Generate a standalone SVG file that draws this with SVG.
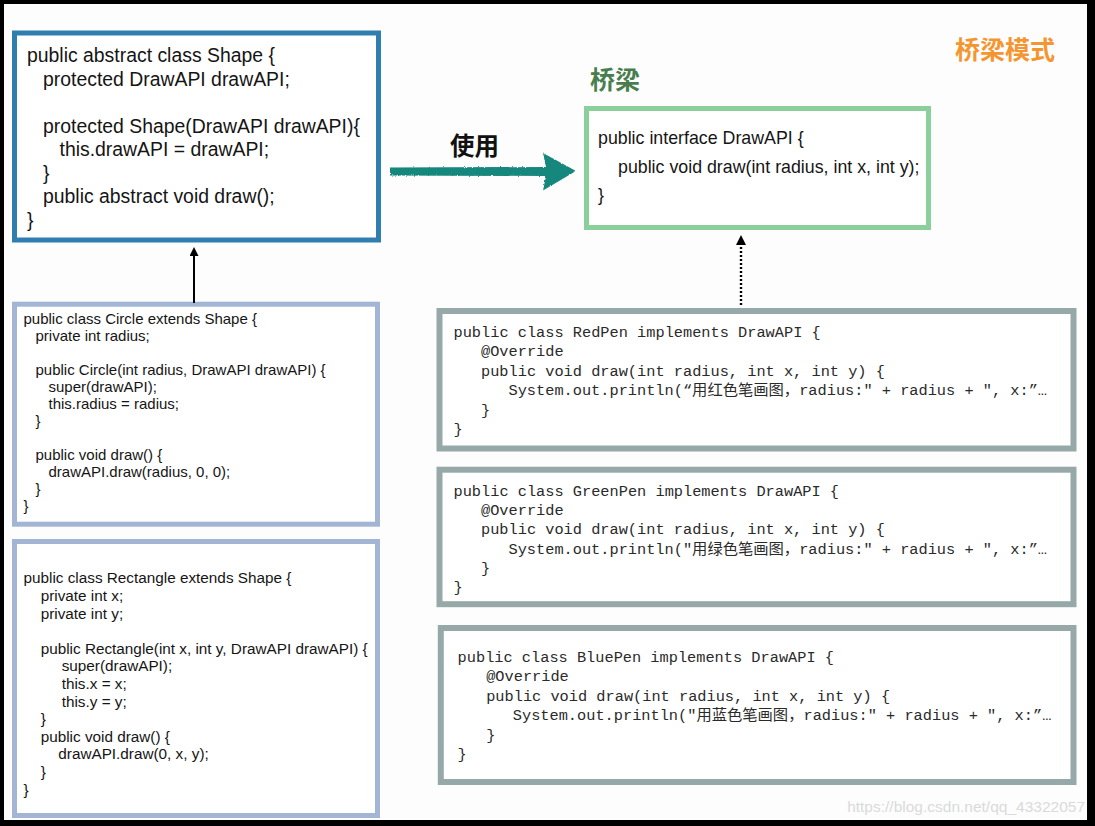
<svg xmlns="http://www.w3.org/2000/svg" width="1095" height="826" viewBox="0 0 1095 826">
<style>
  .sans { font-family: "Liberation Sans", Arial, "Noto Sans CJK SC", sans-serif; fill: #151515; }
  .mono { font-family: "Liberation Mono", "Noto Sans CJK SC", monospace; fill: #2a2a2a; font-size: 15.3px; }
  .cjk { font-family: "Noto Sans CJK SC", sans-serif; font-weight: bold; }
  .shape { font-size: 19.4px; }
  .iface { font-size: 17.8px; }
  .small { font-size: 15px; }
  .small2 { font-size: 15.3px; }
  .box { fill: #ffffff; stroke-width: 5; }
  .pen { fill: #ffffff; stroke: #97a8a8; stroke-width: 6; }
</style>
<defs>
  <marker id="tri" viewBox="0 0 10 10" refX="0" refY="5" markerUnits="userSpaceOnUse" markerWidth="10" markerHeight="9" orient="auto">
    <path d="M0,0 L10,5 L0,10 Z" fill="#000"/>
  </marker>
  <marker id="tri2" viewBox="0 0 10 10" refX="0" refY="5" markerUnits="userSpaceOnUse" markerWidth="10" markerHeight="10" orient="auto">
    <path d="M0,0 L10,5 L0,10 Z" fill="#000"/>
  </marker>
  <filter id="rough" x="-5%" y="-30%" width="110%" height="160%">
    <feTurbulence type="fractalNoise" baseFrequency="0.9" numOctaves="2" seed="3" result="n"/>
    <feDisplacementMap in="SourceGraphic" in2="n" scale="2.5" xChannelSelector="R" yChannelSelector="G"/>
  </filter>
</defs>

<!-- frame -->
<rect x="0" y="0" width="1095" height="826" fill="#000"/>
<rect x="4" y="4" width="1083" height="816" fill="#fdfdfd"/>

<!-- labels -->
<text class="cjk" x="955" y="59" font-size="25" fill="#f5952f">桥梁模式</text>
<text class="cjk" x="590" y="89" font-size="25" fill="#4a7d4e">桥梁</text>
<text class="cjk" x="450" y="155" font-size="24.5" fill="#111">使用</text>

<!-- Shape -->
<g id="shape">
  <rect class="box" x="14.5" y="33" width="364" height="207" stroke="#2f7eaf"/>
  <text class="sans shape" x="27" y="62.3">public abstract class Shape {</text>
  <text class="sans shape" x="43" y="85.8">protected DrawAPI drawAPI;</text>
  <text class="sans shape" x="43" y="132.8">protected Shape(DrawAPI drawAPI){</text>
  <text class="sans shape" x="59.5" y="156.3">this.drawAPI = drawAPI;</text>
  <text class="sans shape" x="43" y="179.8">}</text>
  <text class="sans shape" x="43" y="203.3">public abstract void draw();</text>
  <text class="sans shape" x="27" y="226.8">}</text>
</g>

<!-- DrawAPI -->
<g id="drawapi">
  <rect class="box" x="586.5" y="108.5" width="342" height="119" stroke="#8bcf9c"/>
  <text class="sans iface" x="598" y="144.3">public interface DrawAPI {</text>
  <text class="sans iface" x="618" y="172.5">public void draw(int radius, int x, int y);</text>
  <text class="sans iface" x="598" y="200.7">}</text>
</g>

<!-- Circle -->
<g id="circle">
  <rect class="box" x="14.5" y="304.2" width="363" height="220" stroke="#a2b5d4"/>
  <text class="sans small" x="23.5" y="324">public class Circle extends Shape {</text>
  <text class="sans small" x="35.5" y="341">private int radius;</text>
  <text class="sans small" x="35.5" y="375">public Circle(int radius, DrawAPI drawAPI) {</text>
  <text class="sans small" x="48.5" y="392">super(drawAPI);</text>
  <text class="sans small" x="48.5" y="409">this.radius = radius;</text>
  <text class="sans small" x="35.5" y="426">}</text>
  <text class="sans small" x="35.5" y="460">public void draw() {</text>
  <text class="sans small" x="48.5" y="477">drawAPI.draw(radius, 0, 0);</text>
  <text class="sans small" x="35.5" y="494">}</text>
  <text class="sans small" x="23.5" y="511">}</text>
</g>

<!-- Rectangle -->
<g id="rectangle">
  <rect class="box" x="14.5" y="541.5" width="363" height="274" stroke="#a2b5d4"/>
  <text class="sans small2" x="23.5" y="583.3">public class Rectangle extends Shape {</text>
  <text class="sans small2" x="40.7" y="600.9">private int x;</text>
  <text class="sans small2" x="40.7" y="618.5">private int y;</text>
  <text class="sans small2" x="40.7" y="653.7">public Rectangle(int x, int y, DrawAPI drawAPI) {</text>
  <text class="sans small2" x="61.7" y="671.3">super(drawAPI);</text>
  <text class="sans small2" x="61.7" y="688.9">this.x = x;</text>
  <text class="sans small2" x="61.7" y="706.5">this.y = y;</text>
  <text class="sans small2" x="40.7" y="724.1">}</text>
  <text class="sans small2" x="40.7" y="741.7">public void draw() {</text>
  <text class="sans small2" x="58.3" y="759.3">drawAPI.draw(0, x, y);</text>
  <text class="sans small2" x="40.7" y="776.9">}</text>
  <text class="sans small2" x="23.5" y="794.5">}</text>
</g>

<!-- RedPen -->
<g id="redpen">
  <rect class="pen" x="439.5" y="311" width="634" height="137.5"/>
  <text class="mono" x="453.5" y="337">public class RedPen implements DrawAPI {</text>
  <text class="mono" x="481" y="356.4">@Override</text>
  <text class="mono" x="481" y="375.8">public void draw(int radius, int x, int y) {</text>
  <text class="mono" x="508.5" y="395.2">System.out.println(“用红色笔画图，radius:" + radius + ", x:”…</text>
  <text class="mono" x="481" y="414.6">}</text>
  <text class="mono" x="453.5" y="434">}</text>
</g>

<!-- GreenPen -->
<g id="greenpen">
  <rect class="pen" x="439.5" y="469.7" width="634" height="134.5"/>
  <text class="mono" x="453.5" y="496">public class GreenPen implements DrawAPI {</text>
  <text class="mono" x="481" y="515.2">@Override</text>
  <text class="mono" x="481" y="534.4">public void draw(int radius, int x, int y) {</text>
  <text class="mono" x="508.5" y="553.6">System.out.println("用绿色笔画图，radius:" + radius + ", x:”…</text>
  <text class="mono" x="481" y="572.8">}</text>
  <text class="mono" x="453.5" y="592">}</text>
</g>

<!-- BluePen -->
<g id="bluepen">
  <rect class="pen" x="440.8" y="628" width="632.7" height="154"/>
  <text class="mono" x="457.6" y="661.7">public class BluePen implements DrawAPI {</text>
  <text class="mono" x="486.2" y="681.2">@Override</text>
  <text class="mono" x="486.2" y="700.7">public void draw(int radius, int x, int y) {</text>
  <text class="mono" x="512.8" y="720.2">System.out.println("用蓝色笔画图，radius:" + radius + ", x:”…</text>
  <text class="mono" x="486.2" y="739.7">}</text>
  <text class="mono" x="457.6" y="759.2">}</text>
</g>

<!-- connectors -->
<g id="connectors">
  <path d="M390,167.5 L546,167 L543,153 L576,171 L543,190.5 L546,176 L390,175.5 Z" fill="#16877b" filter="url(#rough)"/>
  <line x1="194" y1="303" x2="194" y2="256" stroke="#000" stroke-width="2" marker-end="url(#tri)"/>
  <line x1="741" y1="305" x2="741" y2="245" stroke="#000" stroke-width="2.4" stroke-dasharray="2 2" marker-end="url(#tri2)"/>
</g>

<text x="1085" y="812" text-anchor="end" font-family="Liberation Sans, Arial, sans-serif" font-size="15.5" fill="#dadada">https://blog.csdn.net/qq_43322057</text>
</svg>
